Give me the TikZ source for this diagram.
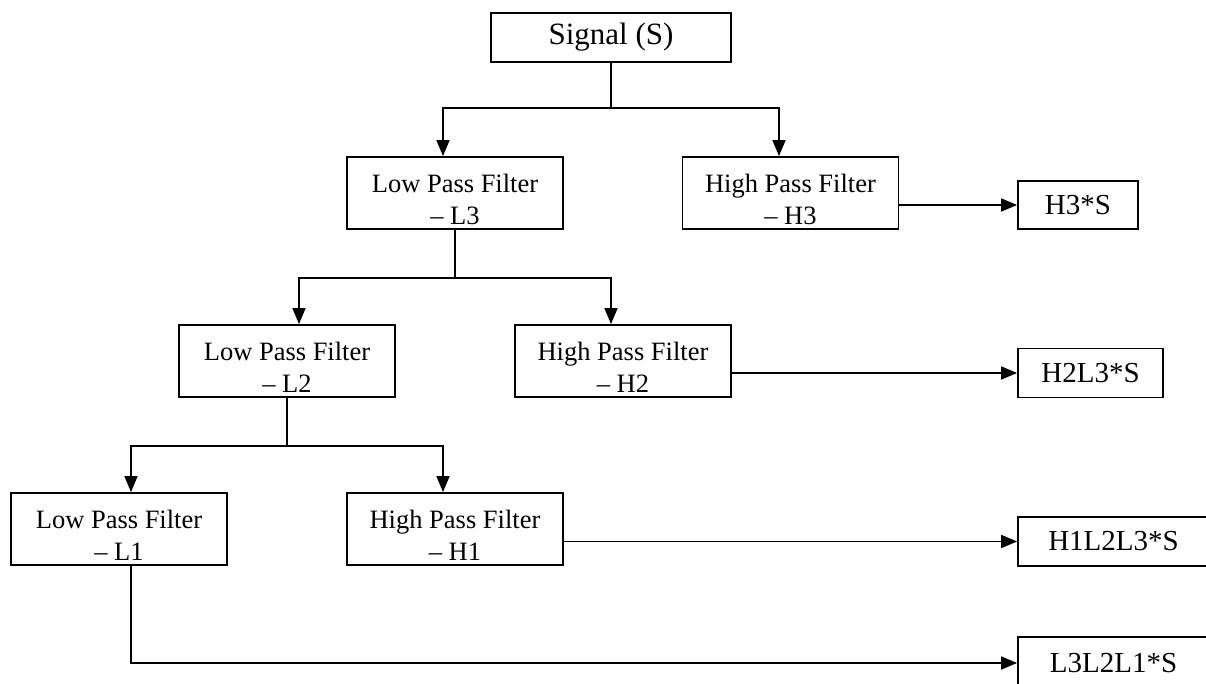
\documentclass[tikz,border=0pt]{standalone}
\usepackage{fontspec}
\setmainfont{Liberation Serif}
\usetikzlibrary{arrows.meta}
\begin{document}
\begin{tikzpicture}[x=0.5pt,y=-0.5pt,
  fbox/.style={draw, line width=0.9pt, rectangle, inner sep=0pt},
  filt/.style={fbox, minimum width=108pt, minimum height=36pt},
  ftext/.style={font=\fontsize{13.25}{16}\selectfont, align=center, inner sep=0pt, yshift=-3.2pt},
  ofont/.style={font=\fontsize{14.5}{17}\selectfont},
  conn/.style={line width=0.8pt},
  arr/.style={conn, -{Triangle[length=8pt,width=6.5pt]}},
]
\clip (0,0) rectangle (1206,684);
% boxes
\node[fbox, minimum width=120pt, minimum height=24.5pt, font=\fontsize{15.5}{18}\selectfont] (S) at (611,37.5) {Signal (S)};
\node[filt, label={[ftext,name=L3t]center:{Low Pass Filter\\– L3}}] (L3) at (455,193) {};
\node[filt, label={[ftext,name=H3t]center:{High Pass Filter\\– H3}}] (H3) at (790.5,193) {};
\node[filt, label={[ftext,name=L2t]center:{Low Pass Filter\\– L2}}] (L2) at (287,361) {};
\node[filt, label={[ftext,name=H2t]center:{High Pass Filter\\– H2}}] (H2) at (623,361) {};
\node[filt, label={[ftext,name=L1t]center:{Low Pass Filter\\– L1}}] (L1) at (119,529) {};
\node[filt, label={[ftext,name=H1t]center:{High Pass Filter\\– H1}}] (H1) at (455,529) {};
% outputs
\node[fbox, ofont, minimum width=60pt, minimum height=24pt] (O1) at (1078,205) {H3*S};
\node[fbox, ofont, minimum width=72.5pt, minimum height=24.5pt] (O2) at (1090.5,373) {H2L3*S};
\node[fbox, ofont, minimum width=95.5pt, minimum height=24.5pt] (O3) at (1113.5,541.5) {H1L2L3*S};
\node[fbox, ofont, minimum width=95.5pt, minimum height=26pt] (O4) at (1113.5,663) {L3L2L1*S};
% junctions
\coordinate (a1) at (443,108);
\coordinate (a2) at (779,108);
\coordinate (a3) at (299,278);
\coordinate (a4) at (611,278);
\coordinate (a5) at (131,446);
\coordinate (a6) at (443,446);
% connectors
\draw[arr] (S.south) |- (a1) -- (a1 |- L3.north);
\draw[arr] (S.south) |- (a2) -- (a2 |- H3.north);
\draw[arr] (L3.south) |- (a3) -- (a3 |- L2.north);
\draw[arr] (L3.south) |- (a4) -- (a4 |- H2.north);
\draw[arr] (L2.south) |- (a5) -- (a5 |- L1.north);
\draw[arr] (L2.south) |- (a6) -- (a6 |- H1.north);
\draw[arr] (H3.east |- O1.west) -- (O1.west);
\draw[arr] (H2.east |- O2.west) -- (O2.west);
\draw[arr] (H1.east |- O3.west) -- (O3.west);
\draw[arr] (a5 |- L1.south) |- (O4.west);
\end{tikzpicture}
\end{document}
